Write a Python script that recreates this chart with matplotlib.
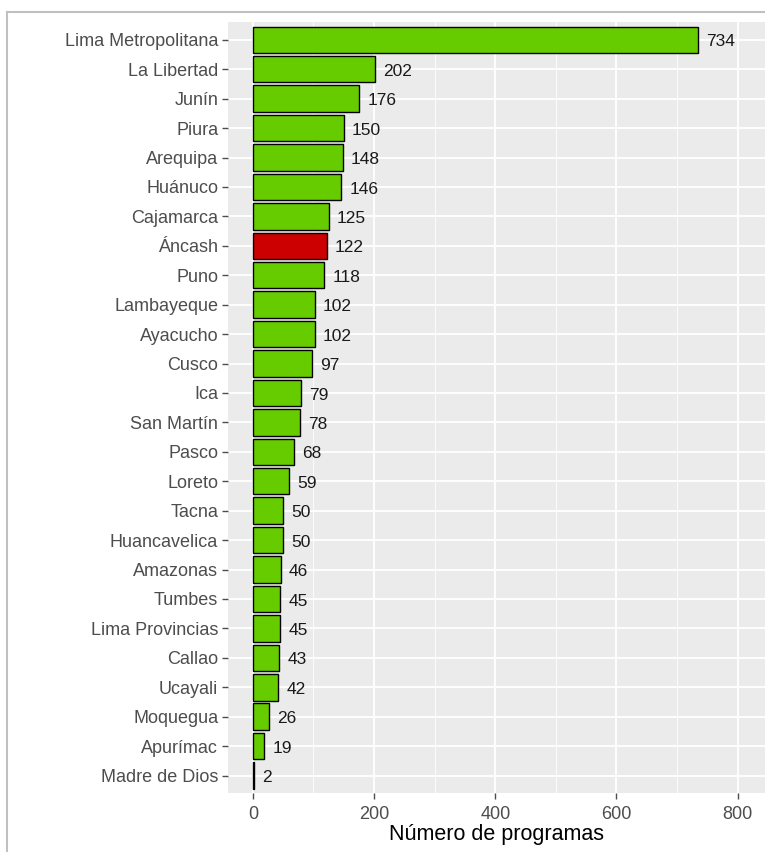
import numpy as np
import matplotlib
matplotlib.use("Agg")
from matplotlib import pyplot as plt
from matplotlib.lines import Line2D

regions = ['Lima Metropolitana', 'La Libertad', 'Junín', 'Piura', 'Arequipa',
           'Huánuco', 'Cajamarca', 'Áncash', 'Puno', 'Lambayeque', 'Ayacucho',
           'Cusco', 'Ica', 'San Martín', 'Pasco', 'Loreto', 'Tacna',
           'Huancavelica', 'Amazonas', 'Tumbes', 'Lima Provincias', 'Callao',
           'Ucayali', 'Moquegua', 'Apurímac', 'Madre de Dios']
programs = [734, 202, 176, 150, 148, 146, 125, 122, 118, 102, 102, 97, 79,
            78, 68, 59, 50, 50, 46, 45, 45, 43, 42, 26, 19, 2]
highlight = 'Áncash'

plt.rcParams['font.family'] = ['Liberation Sans', 'DejaVu Sans']

fig = plt.figure(figsize=(7.65, 8.52), dpi=100)
ax = fig.add_axes([0.298, 0.069, 0.702, 0.905])
ax.set_facecolor('#ebebeb')

n = len(regions)
ypos = np.arange(n)[::-1]
colors = ['#cc0000' if r == highlight else '#66cc00' for r in regions]
ax.barh(ypos, programs, height=0.9, color=colors, edgecolor='black',
        linewidth=1.0, zorder=3)

for y, v in zip(ypos, programs):
    ax.annotate(str(v), (v, y), xytext=(6, -1.5), textcoords='offset points',
                ha='left', va='center', fontsize=12.5, color='#1a1a1a')

ax.set_xlim(-41, 845)
ax.set_ylim(-0.6, n - 0.4)
ax.set_xticks([0, 200, 400, 600, 800])
ax.set_xticks([100, 300, 500, 700], minor=True)
ax.set_yticks(ypos)
ax.set_yticklabels(regions)
ax.grid(True, which='major', color='white', linewidth=1.3, zorder=0)
ax.grid(True, which='minor', axis='x', color='white', linewidth=0.6, zorder=0)
ax.tick_params(axis='both', which='major', length=4, width=1, color='#4d4d4d',
               labelsize=13, labelcolor='#4d4d4d', pad=3)
ax.tick_params(axis='x', which='major', pad=5)
ax.tick_params(axis='both', which='minor', length=0)
for s in ax.spines.values():
    s.set_visible(False)
ax.set_xlabel('Número de programas', fontsize=15.5, color='black', labelpad=1)

# outer grey frame of the screenshot
fig.add_artist(Line2D([7 / 765, 7 / 765], [0, 1 - 12 / 852],
                      color='#c0c0c0', linewidth=1.5))
fig.add_artist(Line2D([7 / 765, 1], [1 - 12 / 852, 1 - 12 / 852],
                      color='#c0c0c0', linewidth=1.5))

fig.savefig('out.png', dpi=100)
